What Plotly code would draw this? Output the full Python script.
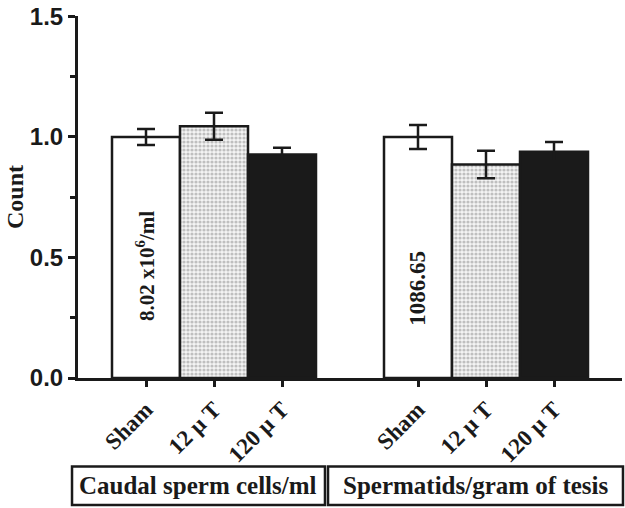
import plotly.graph_objects as go

# 数据
groups = ["Caudal sperm cells/ml", "Spermatids/gram of tesis"]
treatments = ["Sham", "12 µ T", "120 µ T"]
sham_mean = [1.0, 1.0]
sham_err = [0.033, 0.05]
t12_mean = [1.045, 0.886]
t12_err = [0.056, 0.057]
t120_mean = [0.927, 0.939]
t120_err = [0.028, 0.04]
sham_labels = ["8.02 x10<sup>6</sup>/ml", "1086.65"]

serif = "Liberation Serif"
sans = "Liberation Sans"
ink = "#1a1a1a"

# 组内位置
pos = {"Sham": [0, 4], "12 µ T": [1, 5], "120 µ T": [2, 6]}

fig = go.Figure()
err_style = dict(type="data", color=ink, thickness=2.5, width=9)

fig.add_bar(
    x=pos["Sham"], y=sham_mean, width=1,
    marker=dict(color="white", line=dict(color=ink, width=2.5)),
    error_y=dict(array=sham_err, **err_style),
)
fig.add_bar(
    x=pos["12 µ T"], y=t12_mean, width=1,
    marker=dict(
        color="#e6e6e6",
        line=dict(color=ink, width=2.5),
        pattern=dict(shape=".", fgcolor="#8a8a8a", bgcolor="#f4f4f4", size=4, solidity=0.5),
    ),
    error_y=dict(array=t12_err, **err_style),
)
fig.add_bar(
    x=pos["120 µ T"], y=t120_mean, width=1,
    marker=dict(color=ink, line=dict(color=ink, width=2.5)),
    error_y=dict(array=t120_err, **err_style),
)

# 柱内竖排文字
for xi, txt, yy, fs in zip(pos["Sham"], sham_labels, [0.465, 0.37], [21, 23]):
    fig.add_annotation(
        x=xi, y=yy, xref="x", yref="y", text="<b>" + txt + "</b>", textangle=-90,
        showarrow=False, xanchor="center", yanchor="middle",
        font=dict(family=serif, size=fs, color=ink),
    )

# 底部分组框
boxes = [(-0.011, 0.454), (0.4596, 1.0018)]
for (x0, x1), g in zip(boxes, groups):
    fig.add_shape(
        type="rect", xref="paper", yref="paper", x0=x0, x1=x1, y0=-0.3505, y1=-0.2446,
        line=dict(color=ink, width=2.5), fillcolor="rgba(0,0,0,0)",
    )
    fig.add_annotation(
        x=(x0 + x1) / 2, y=-0.2975, xref="paper", yref="paper", text="<b>" + g + "</b>",
        showarrow=False, font=dict(family=serif, size=25, color=ink),
        xanchor="center", yanchor="middle",
    )

fig.update_layout(
    width=625, height=508,
    margin=dict(l=78, r=3, t=10, b=130),
    plot_bgcolor="white", paper_bgcolor="white",
    barmode="overlay", showlegend=False,
    xaxis=dict(
        range=[-1, 7], tickvals=sorted(pos["Sham"] + pos["12 µ T"] + pos["120 µ T"]),
        ticktext=["<b>" + t + "</b>" for t in treatments * 2],
        tickangle=-45, ticks="outside", ticklen=6, tickwidth=2.5, tickcolor=ink,
        showline=True, linewidth=3, linecolor=ink, showgrid=False, zeroline=False,
        tickfont=dict(family=serif, size=23, color=ink),
    ),
    yaxis=dict(
        range=[0, 1.502], tickvals=[0, 0.5, 1.0, 1.5],
        ticktext=["<b>0.0</b>", "<b>0.5</b>", "<b>1.0</b>", "<b>1.5</b>"],
        ticks="outside", ticklen=7, tickwidth=3, tickcolor=ink, ticklabeloverflow="allow",
        minor=dict(tickvals=[0.25, 0.75, 1.25], ticks="outside", ticklen=5, tickwidth=2.5, tickcolor=ink),
        showline=True, linewidth=3, linecolor=ink, showgrid=False, zeroline=False,
        tickfont=dict(family=sans, size=24, color=ink),
        title=dict(text="<b>Count</b>", font=dict(family=serif, size=24, color=ink), standoff=0),
    ),
)

fig.write_html(
    "out.html",
    config={"displayModeBar": False},
    post_script="document.body.style.margin='0px';",
)
